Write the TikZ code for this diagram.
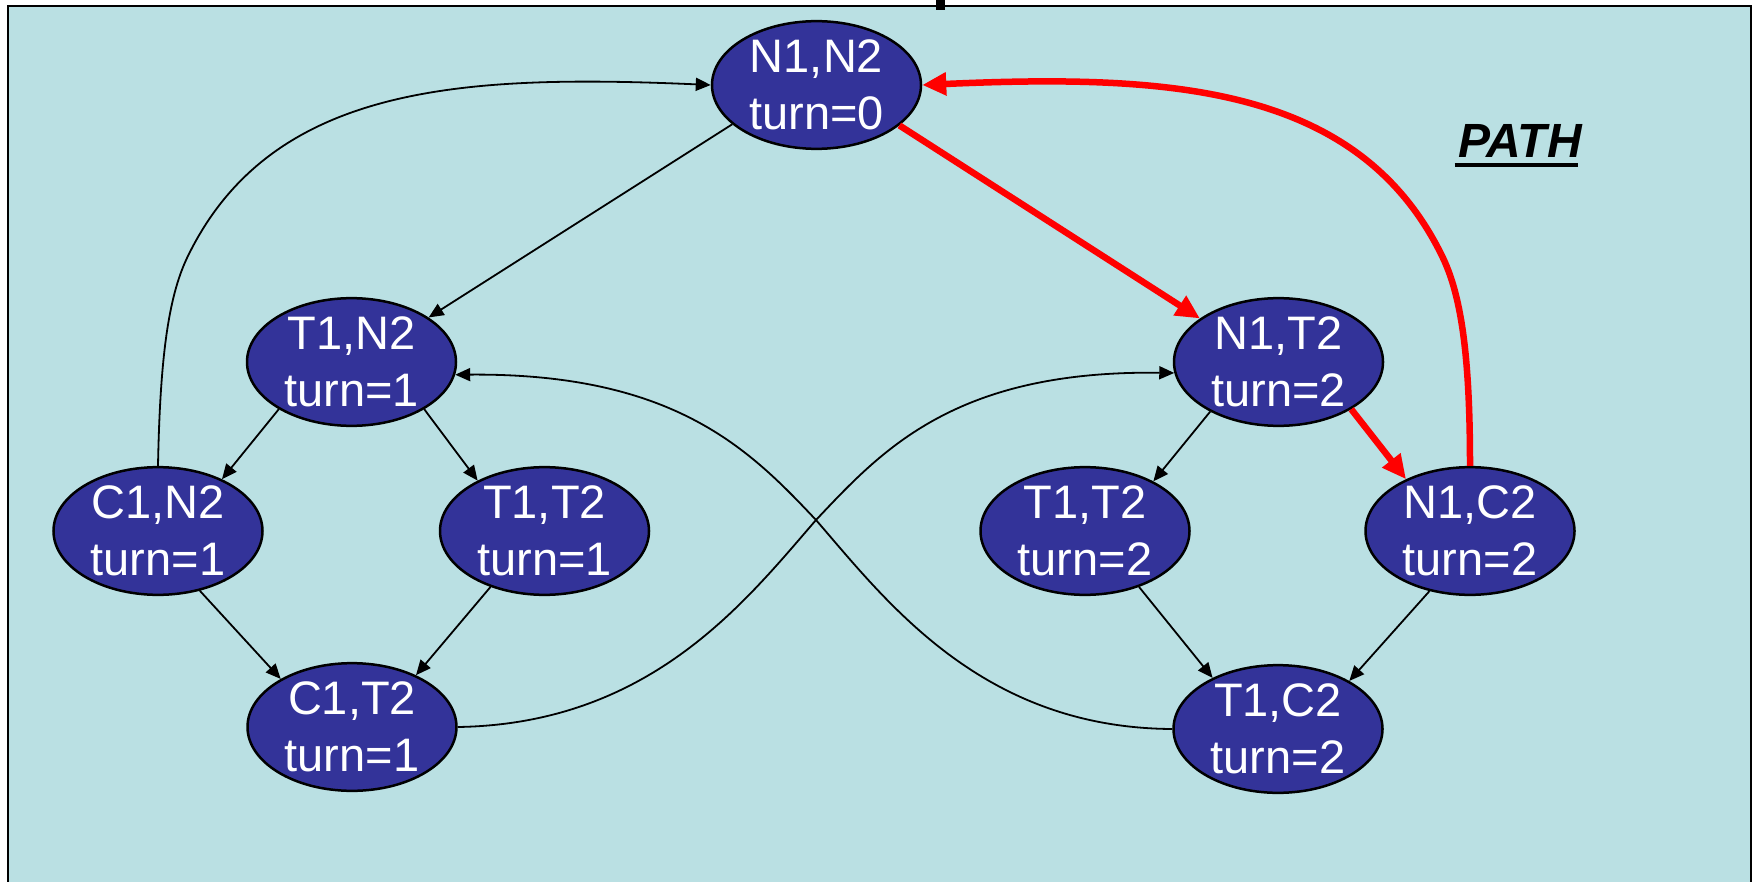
\documentclass[tikz,border=0pt]{standalone}
\usepackage{fontspec}
\setmainfont{Liberation Sans}
\usetikzlibrary{arrows.meta,calc,shapes.geometric}
\definecolor{slidebg}{RGB}{186,224,227}
\definecolor{statefill}{RGB}{51,51,153}
\definecolor{pathred}{RGB}{255,0,0}
\begin{document}
\begin{tikzpicture}[x=1pt,y=-1pt,
  state/.style={ellipse, draw=black, line width=2.5pt, fill=statefill, text=white,
    minimum width=209pt, minimum height=126pt, inner sep=0pt, align=center,
    font=\fontsize{47}{57}\selectfont},
  trans/.style={draw=black, line width=1.8pt, -{Triangle[length=15pt,width=13pt]}},
  pathedge/.style={draw=pathred, line width=6.5pt, -{Triangle[length=24pt,width=22pt]}}]

\useasboundingbox (0,0) rectangle (1752,882);
% slide frame
\fill[white] (0,0) rectangle (1752,882);
\fill[slidebg] (8,6) rectangle (1752,882);
\draw[line width=2.5pt] (8,882) -- (8,6) -- (1751,6) -- (1751,882);
\fill[black] (936,0) rectangle (945,10);

% states
\node[state] (n1n2)  at (816.5,85)  {N1,N2\\turn=0};
\node[state] (t1n2)  at (351.5,362) {T1,N2\\turn=1};
\node[state] (c1n2)  at (158,531)   {C1,N2\\turn=1};
\node[state] (t1t2a) at (544.5,531) {T1,T2\\turn=1};
\node[state] (c1t2)  at (352,727)   {C1,T2\\turn=1};
\node[state] (n1t2)  at (1278.5,362){N1,T2\\turn=2};
\node[state] (t1t2b) at (1085,531)  {T1,T2\\turn=2};
\node[state] (n1c2)  at (1470,531)  {N1,C2\\turn=2};
\node[state] (t1c2)  at (1278,729)  {T1,C2\\turn=2};

% transitions
\draw[trans] (n1n2.-155) -- (t1n2.30);
\draw[trans] (c1n2.north) .. controls (160,360) and (168,298) .. (187,258)
  .. controls (270,85) and (460,74) .. (n1n2.west);
\draw[trans] (t1n2.-147) -- (c1n2.39);
\draw[trans] (t1n2.-33) -- (t1t2a.143);
\draw[trans] (c1n2.-55) -- (c1t2.146);
\draw[trans] (t1t2a.-134) -- (c1t2.39);
\draw[trans] (c1t2.east) .. controls (650,724) and (745,602) .. (816,520)
  .. controls (882,450) and (955,370) .. (n1t2.-174);
\draw[trans] (t1c2.west) .. controls (982,728) and (887,602) .. (816,520)
  .. controls (750,450) and (675,373) .. (t1n2.-7);
\draw[trans] (n1t2.-144) -- (t1t2b.36);
\draw[trans] (t1t2b.-46) -- (t1c2.142);
\draw[trans] (n1c2.-124) -- (t1c2.34);

% highlighted path
\draw[pathedge] (n1n2.-26) -- (n1t2.151);
\draw[pathedge] (n1t2.-33) -- (n1c2.141);
\draw[pathedge] (n1c2.north) .. controls (1470,360) and (1462,298) .. (1443,258)
  .. controls (1360,85) and (1170,74) .. (n1n2.east);

% label
\node[font=\fontsize{48}{58}\selectfont\bfseries\itshape, anchor=base, inner sep=0pt]
  (pathlbl) at (1520,158) {PATH};
\draw[line width=4.5pt] ($(pathlbl.base west)+(-3.5,7)$) -- ($(pathlbl.base east)+(-3.5,7)$);
\end{tikzpicture}
\end{document}
